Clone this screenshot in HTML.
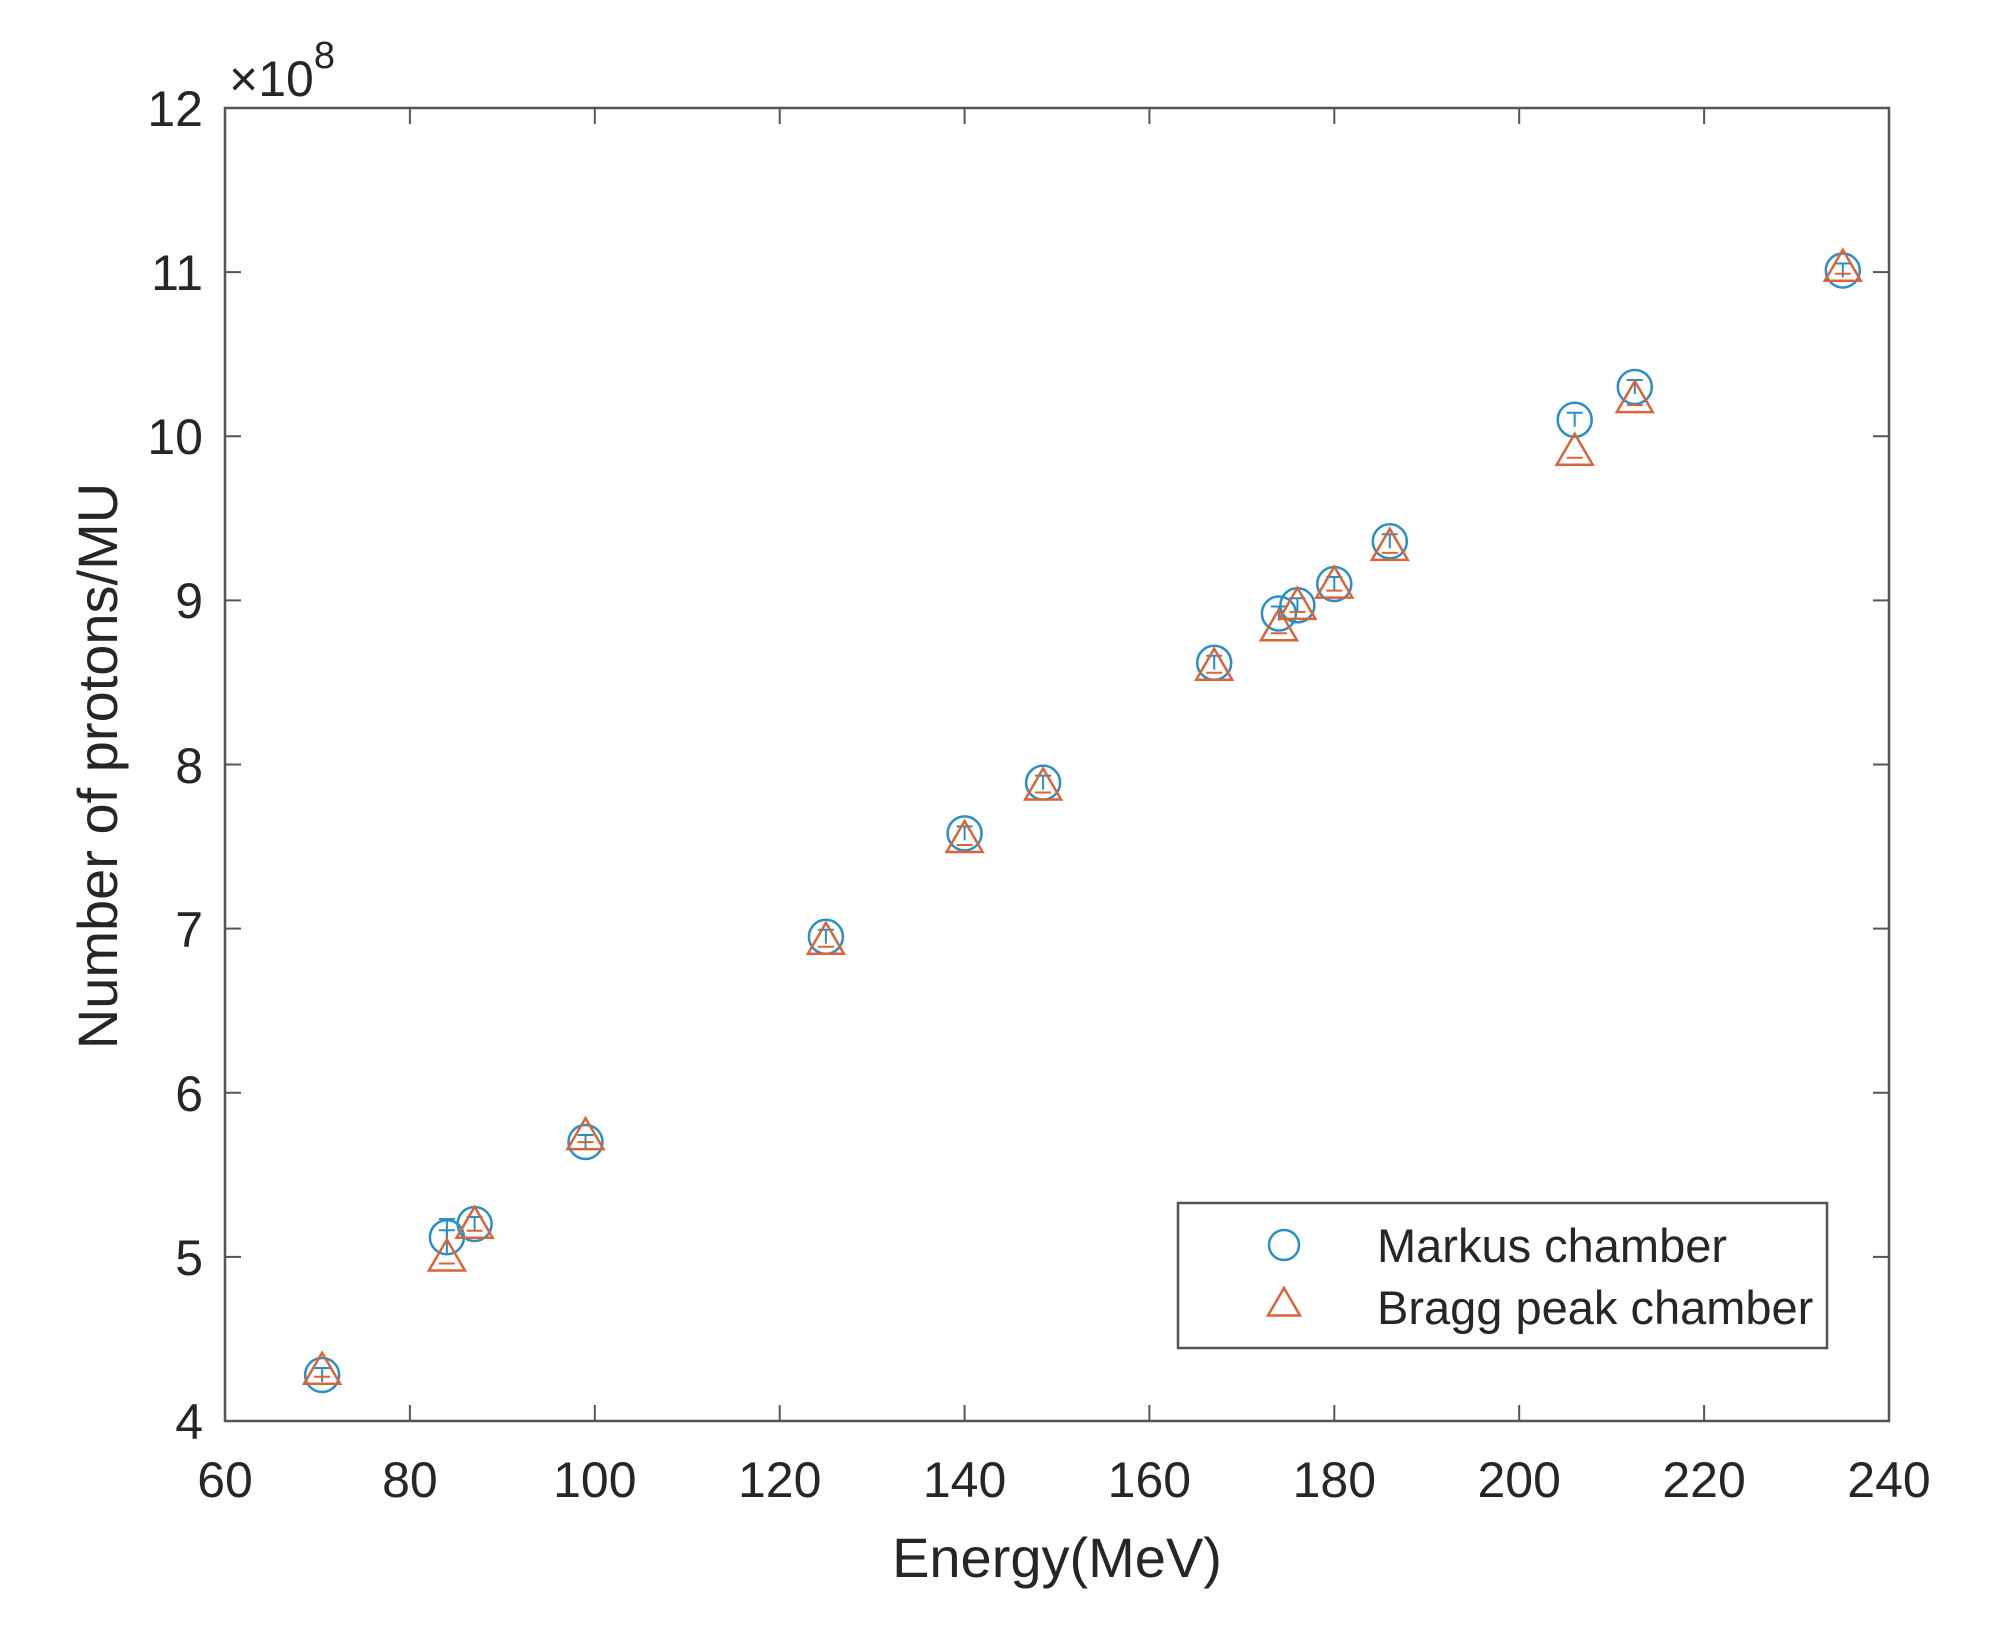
<!DOCTYPE html>
<html><head><meta charset="utf-8"><style>
html,body{margin:0;padding:0;background:#fff;}
svg{display:block;}
text{font-family:"Liberation Sans",Arial,sans-serif;fill:#262626;}
</style></head><body>
<svg width="2016" height="1644" viewBox="0 0 2016 1644" xmlns="http://www.w3.org/2000/svg">
<defs>
<g id="c"><circle cx="0" cy="0" r="17" fill="none" stroke="#2a8fc4" stroke-width="2.5"/><line x1="0" y1="-7" x2="0" y2="7" stroke="#2a8fc4" stroke-width="2"/><line x1="-8" y1="-7" x2="8" y2="-7" stroke="#2a8fc4" stroke-width="2"/></g>
<g id="t"><polygon points="0,-19 -18,12 18,12" fill="none" stroke="#d9643a" stroke-width="2.5"/><line x1="-8" y1="5" x2="8" y2="5" stroke="#d9643a" stroke-width="2"/></g>
</defs>
<rect width="2016" height="1644" fill="#fff"/>
<g stroke="#555" stroke-width="2">
<line x1="409.9" y1="1421" x2="409.9" y2="1405"/><line x1="594.8" y1="1421" x2="594.8" y2="1405"/><line x1="779.7" y1="1421" x2="779.7" y2="1405"/><line x1="964.6" y1="1421" x2="964.6" y2="1405"/><line x1="1149.4" y1="1421" x2="1149.4" y2="1405"/><line x1="1334.3" y1="1421" x2="1334.3" y2="1405"/><line x1="1519.2" y1="1421" x2="1519.2" y2="1405"/><line x1="1704.1" y1="1421" x2="1704.1" y2="1405"/>
<line x1="409.9" y1="108" x2="409.9" y2="124"/><line x1="594.8" y1="108" x2="594.8" y2="124"/><line x1="779.7" y1="108" x2="779.7" y2="124"/><line x1="964.6" y1="108" x2="964.6" y2="124"/><line x1="1149.4" y1="108" x2="1149.4" y2="124"/><line x1="1334.3" y1="108" x2="1334.3" y2="124"/><line x1="1519.2" y1="108" x2="1519.2" y2="124"/><line x1="1704.1" y1="108" x2="1704.1" y2="124"/>
<line x1="225" y1="1256.9" x2="241" y2="1256.9"/><line x1="225" y1="1092.75" x2="241" y2="1092.75"/><line x1="225" y1="928.6" x2="241" y2="928.6"/><line x1="225" y1="764.5" x2="241" y2="764.5"/><line x1="225" y1="600.4" x2="241" y2="600.4"/><line x1="225" y1="436.25" x2="241" y2="436.25"/><line x1="225" y1="272.1" x2="241" y2="272.1"/>
<line x1="1889" y1="1256.9" x2="1873" y2="1256.9"/><line x1="1889" y1="1092.75" x2="1873" y2="1092.75"/><line x1="1889" y1="928.6" x2="1873" y2="928.6"/><line x1="1889" y1="764.5" x2="1873" y2="764.5"/><line x1="1889" y1="600.4" x2="1873" y2="600.4"/><line x1="1889" y1="436.25" x2="1873" y2="436.25"/><line x1="1889" y1="272.1" x2="1873" y2="272.1"/>
</g>
<rect x="225" y="108" width="1664" height="1313" fill="none" stroke="#555" stroke-width="2.5"/>
<g font-size="50" text-anchor="middle">
<text x="225" y="1497">60</text><text x="409.9" y="1497">80</text><text x="594.8" y="1497">100</text><text x="779.7" y="1497">120</text><text x="964.6" y="1497">140</text><text x="1149.4" y="1497">160</text><text x="1334.3" y="1497">180</text><text x="1519.2" y="1497">200</text><text x="1704.1" y="1497">220</text><text x="1889" y="1497">240</text>
</g>
<g font-size="50" text-anchor="end">
<text x="203" y="1439">4</text><text x="203" y="1275">5</text><text x="203" y="1111">6</text><text x="203" y="947">7</text><text x="203" y="783">8</text><text x="203" y="618">9</text><text x="203" y="454">10</text><text x="203" y="290">11</text><text x="203" y="126">12</text>
</g>
<text x="229" y="96" font-size="50">×10<tspan dy="-28" font-size="38">8</tspan></text>
<text x="1057" y="1577" font-size="56" text-anchor="middle">Energy(MeV)</text>
<text transform="translate(117,766) rotate(-90)" font-size="56" text-anchor="middle">Number of protons/MU</text>
<line x1="446.9" y1="1219" x2="446.9" y2="1255" stroke="#2a8fc4" stroke-width="2"/>
<line x1="439" y1="1219" x2="455" y2="1219" stroke="#2a8fc4" stroke-width="2"/>
<use href="#c" x="322.1" y="1375"/><use href="#t" x="322.1" y="1371.8"/>
<use href="#c" x="446.9" y="1237.2"/><use href="#t" x="446.9" y="1258.5"/>
<use href="#c" x="474.6" y="1224"/><use href="#t" x="474.6" y="1225.7"/>
<use href="#c" x="585.5" y="1142"/><use href="#t" x="585.5" y="1137.1"/>
<use href="#c" x="825.9" y="936.8"/><use href="#t" x="825.9" y="941.8"/>
<use href="#c" x="964.6" y="833.4"/><use href="#t" x="964.6" y="840"/>
<use href="#c" x="1043.1" y="782.6"/><use href="#t" x="1043.1" y="787.5"/>
<use href="#c" x="1214.2" y="662.7"/><use href="#t" x="1214.2" y="667.7"/>
<use href="#c" x="1278.9" y="613.5"/><use href="#t" x="1278.9" y="628.3"/>
<use href="#c" x="1297.4" y="605.3"/><use href="#t" x="1297.4" y="606.9"/>
<use href="#c" x="1334.3" y="584"/><use href="#t" x="1334.3" y="585.6"/>
<use href="#c" x="1389.8" y="541.3"/><use href="#t" x="1389.8" y="547.9"/>
<use href="#c" x="1574.7" y="419.8"/><use href="#t" x="1574.7" y="452.7"/>
<use href="#c" x="1634.8" y="387"/><use href="#t" x="1634.8" y="400.1"/>
<use href="#c" x="1842.8" y="270.5"/><use href="#t" x="1842.8" y="268.8"/>
<rect x="1178" y="1203" width="649" height="145" fill="#fff" stroke="#555" stroke-width="2.5"/>
<circle cx="1284" cy="1245" r="15" fill="none" stroke="#2a8fc4" stroke-width="2.5"/>
<polygon points="1284,1288 1268,1315.5 1300,1315.5" fill="none" stroke="#d9643a" stroke-width="2.5"/>
<text x="1377" y="1262" font-size="47">Markus chamber</text>
<text x="1377" y="1324" font-size="47">Bragg peak chamber</text>
</svg>
</body></html>
